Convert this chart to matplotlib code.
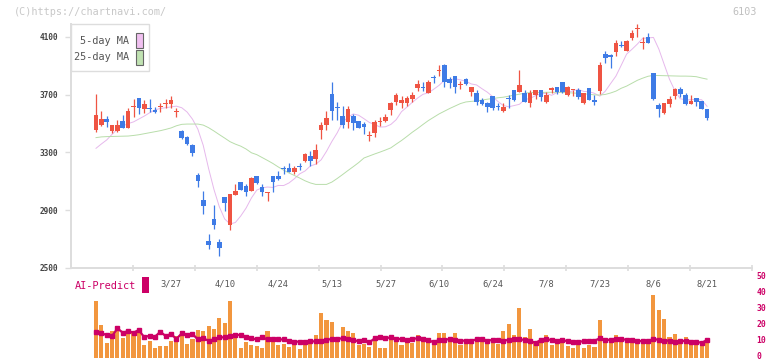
import matplotlib.pyplot as plt
from matplotlib.patches import Rectangle
from matplotlib.transforms import ScaledTranslation

# OHLC (first entry is the flat dash at the far left)
opens = [3300, 3456, 3490, 3532, 3449, 3449, 3518, 3472, 3618, 3675, 3603,
         3605, 3594, 3614, 3638, 3634, 3580, 3449, 3410, 3352, 3144,
         2971, 2687, 2839, 2680, 2994, 2798, 3006, 3093, 3068, 3033,
         3137, 3063, 3020, 3137, 3137, 3188, 3195, 3167, 3204, 3243,
         3276, 3252, 3456, 3490, 3705, 3612, 3553, 3513, 3553, 3518,
         3497, 3412, 3433, 3510, 3520, 3594, 3652, 3641, 3641, 3668,
         3745, 3754, 3714, 3823, 3865, 3906, 3807, 3830, 3766, 3807,
         3721, 3714, 3664, 3641, 3691, 3619, 3590, 3677, 3733, 3721,
         3714, 3641, 3698, 3733, 3652, 3733, 3756, 3786, 3698, 3731,
         3733, 3645, 3745, 3664, 3728, 3982, 3975, 3998, 4040, 4005,
         4095, 4158, 4061, 4098, 3849, 3629, 3576, 3636, 3691, 3740,
         3698, 3636, 3680, 3657, 3601]
highs = [3300, 3705, 3590, 3553, 3492, 3525, 3560, 3610, 3668, 3678, 3664,
         3671, 3617, 3645, 3671, 3691, 3606, 3456, 3414, 3359, 3156,
         3033, 2736, 2937, 2701, 2994, 3013, 3082, 3093, 3082, 3133,
         3137, 3082, 3026, 3137, 3172, 3207, 3230, 3207, 3225, 3299,
         3310, 3359, 3513, 3587, 3790, 3652, 3622, 3622, 3567, 3518,
         3513, 3449, 3525, 3544, 3567, 3652, 3710, 3691, 3691, 3721,
         3802, 3786, 3802, 3837, 3906, 3913, 3825, 3830, 3797, 3818,
         3756, 3733, 3680, 3652, 3691, 3641, 3641, 3698, 3733, 3871,
         3733, 3733, 3733, 3733, 3721, 3756, 3756, 3786, 3760, 3735,
         3745, 3714, 3745, 3698, 3929, 4003, 3982, 4079, 4072, 4080,
         4148, 4190, 4098, 4130, 3849, 3645, 3641, 3691, 3749, 3756,
         3714, 3698, 3680, 3657, 3601]
lows = [3300, 3444, 3484, 3479, 3437, 3444, 3472, 3472, 3548, 3565, 3571,
        3583, 3576, 3578, 3606, 3606, 3548, 3391, 3350, 3276, 3063,
        2874, 2632, 2770, 2585, 2895, 2763, 3006, 3040, 2999, 3033,
        3082, 2999, 2966, 3029, 3110, 3151, 3167, 3151, 3179, 3236,
        3207, 3220, 3394, 3456, 3525, 3525, 3472, 3472, 3456, 3472,
        3428, 3380, 3410, 3484, 3513, 3560, 3629, 3606, 3622, 3652,
        3728, 3728, 3714, 3783, 3830, 3752, 3745, 3714, 3740, 3768,
        3691, 3629, 3629, 3583, 3594, 3594, 3583, 3606, 3657, 3721,
        3652, 3617, 3668, 3657, 3641, 3710, 3705, 3714, 3691, 3691,
        3668, 3636, 3664, 3629, 3705, 3922, 3887, 3968, 4033, 4005,
        4079, 4102, 4017, 4056, 3664, 3548, 3567, 3617, 3671, 3687,
        3629, 3636, 3622, 3601, 3525]
closes = [3300, 3560, 3532, 3511, 3490, 3490, 3472, 3587, 3625, 3610, 3638,
          3600, 3578, 3620, 3644, 3664, 3586, 3403, 3357, 3299, 3105,
          2932, 2659, 2798, 2641, 2952, 3013, 3033, 3040, 3029, 3122,
          3091, 3024, 3024, 3098, 3116, 3184, 3167, 3195, 3200, 3290,
          3243, 3317, 3490, 3541, 3590, 3608, 3490, 3599, 3502, 3472,
          3479, 3416, 3509, 3516, 3548, 3645, 3698, 3664, 3680, 3698,
          3774, 3750, 3786, 3819, 3869, 3790, 3783, 3756, 3770, 3774,
          3756, 3652, 3636, 3617, 3606, 3615, 3613, 3673, 3664, 3768,
          3652, 3714, 3733, 3682, 3698, 3749, 3721, 3721, 3752, 3735,
          3687, 3710, 3664, 3652, 3906, 3952, 3959, 4056, 4036, 4072,
          4130, 4162, 4065, 4056, 3671, 3601, 3641, 3671, 3740, 3705,
          3636, 3657, 3652, 3601, 3541]

# moving averages as drawn on the chart (None = not drawn)
ma5 = [None, 3329, 3359, 3387, 3426, 3461, 3484, 3500, 3512, 3532, 3552,
       3575, 3595, 3605, 3610, 3616, 3621, 3610, 3580, 3531, 3462,
       3350, 3190, 3045, 2925, 2840, 2805, 2815, 2860, 2915, 2985,
       3040, 3055, 3061, 3058, 3072, 3071, 3089, 3118, 3152, 3172,
       3207, 3219, 3249, 3308, 3376, 3436, 3509, 3544, 3567, 3558,
       3534, 3508, 3494, 3476, 3478, 3494, 3527, 3583, 3614, 3647,
       3677, 3703, 3713, 3738, 3765, 3800, 3803, 3811, 3803, 3794,
       3775, 3768, 3742, 3718, 3687, 3653, 3625, 3617, 3625, 3634,
       3667, 3674, 3694, 3706, 3710, 3696, 3715, 3717, 3714, 3728,
       3736, 3723, 3721, 3710, 3690, 3724, 3777, 3829, 3905, 3982,
       4015, 4051, 4091, 4093, 4097, 4017, 3911, 3807, 3728, 3672,
       3665, 3665, 3668, 3665, 3620]
ma25 = [None, 3403, 3408, 3410, 3411, 3412, 3413, 3414, 3418, 3423, 3430,
        3437, 3444, 3451, 3460, 3470, 3485, 3495, 3497, 3497, 3497,
        3490, 3472, 3449, 3424, 3400, 3375, 3358, 3344, 3324, 3298,
        3285, 3265, 3245, 3224, 3200, 3178, 3158, 3141, 3123, 3104,
        3089, 3079, 3079, 3079, 3095, 3120, 3147, 3175, 3202, 3230,
        3262, 3276, 3290, 3303, 3317, 3332, 3358, 3383, 3411, 3440,
        3466, 3494, 3521, 3544, 3567, 3586, 3605, 3622, 3639, 3650,
        3654, 3657, 3663, 3669, 3674, 3679, 3683, 3690, 3697, 3704,
        3711, 3715, 3716, 3716, 3717, 3717, 3717, 3716, 3714, 3712,
        3710, 3707, 3703, 3699, 3698, 3702, 3712, 3725, 3745, 3760,
        3780, 3800, 3815, 3828, 3834, 3833, 3832, 3831, 3830, 3829,
        3829, 3828, 3825, 3816, 3808]

# lower panel: bars and AI-Predict line
bars = [None, 36, 20.8, 9.8, 17, 20.2, 12.9, 17, 15.6, 17.7, 8.3,
        11, 6.6, 7.7, 7.7, 11, 14, 17, 9, 12, 17.7,
        17.3, 20.2, 18.3, 25.4, 22.3, 36, 12.9, 6.6, 10.4, 8.3,
        7.7, 6.2, 17, 10.8, 8.3, 8.9, 6.9, 8.3, 5.6, 9.8,
        10.8, 14.6, 28.5, 24, 22.9, 11.5, 19.8, 17, 16, 8.3,
        8.9, 6.9, 10.8, 6.2, 6.2, 13.1, 13.1, 8.3, 11.5, 9.8,
        14.6, 10.4, 11.5, 9.4, 16, 16, 13.1, 16, 8.3, 9.8,
        8.9, 11.5, 12.1, 9.8, 10.4, 8.9, 17, 21.5, 14.6, 31.2,
        13.1, 18.3, 9.4, 11.5, 14.6, 8.3, 9.8, 12.5, 7.7, 6.6,
        8.3, 6.2, 8.3, 7.3, 24, 11.5, 11.5, 14.6, 11.5, 11.5,
        10.4, 8.9, 12.1, 11.5, 39.6, 30.2, 24.6, 13.1, 15.2, 11.5,
        13.1, 10.4, 9.8, 10.4, 10.4]
ai_line = [None, 16.6, 15.6, 14.6, 13.9, 18.7, 16, 17, 16, 17.7, 13.1,
           14.2, 13.5, 16.6, 13.9, 15.2, 12.1, 15.6, 14.6, 15.2, 11.8,
           12.5, 11, 11.8, 13.1, 13.1, 13.9, 14.6, 14.6, 13.5, 12.5,
           11.8, 13.1, 11.8, 11.8, 11.8, 11.8, 11, 10.4, 10.4, 10.4,
           10.6, 10.6, 11, 11.5, 12.1, 12.1, 12.5, 12.1, 11.5, 10.6,
           11.5, 9.9, 12.5, 13.1, 12.5, 13.1, 12.1, 12.1, 11.5, 12.1,
           12.5, 12.1, 11.5, 9.9, 11.5, 11.5, 12.1, 11.5, 11, 11,
           11, 11.8, 12.1, 11, 11.5, 11.5, 11, 11.5, 11.8, 11.8,
           11.5, 11, 9.6, 11.5, 11.8, 11.5, 11, 11.5, 10.6, 9.9,
           10.4, 10.6, 11, 11, 12.5, 11.5, 11.5, 12.1, 12.1, 11.5,
           11.5, 11, 10.6, 10.6, 12.1, 11.5, 11, 11, 10.4, 10.6,
           11, 10.4, 10.4, 9.6, 11.5]

date_pos = [15, 25, 35, 45, 55, 65, 75, 85, 95, 105, 115]
date_labels = ['3/27', '4/10', '4/24', '5/13', '5/27', '6/10', '6/24',
               '7/8', '7/23', '8/6', '8/21']
price_ticks = [2500, 2900, 3300, 3700, 4100]

RED = '#ef5443'
BLUE = '#3e7be6'
GRID = '#dddddd'
MONO = 'DejaVu Sans Mono'

fig = plt.figure(figsize=(7.72, 3.61), dpi=100)
W, H = 772, 361


def box(x0, y0, x1, y1):
    return [x0 / W, 1 - y1 / H, (x1 - x0) / W, (y1 - y0) / H]


# lower panel first, so the price axes (and its date labels) sit on top
ax2 = fig.add_axes(box(71, 278.3, 752, 358.3))
ax = fig.add_axes(box(71, 24, 752, 268))
ax.patch.set_alpha(0)
n = len(closes)
xs = list(range(n))
x_lo, x_hi = 1 - 25 / 5.36, 1 + 656 / 5.36
ax.set_xlim(x_lo, x_hi)
ax.set_ylim(2500, 4190)

for i in xs:
    o, h, l, c = opens[i], highs[i], lows[i], closes[i]
    col = RED if c >= o else BLUE
    if i > 0:
        ax.vlines(i, l, h, color=col, lw=0.9, zorder=3)
    ax.add_patch(Rectangle((i - 0.43, min(o, c)), 0.86, max(abs(c - o), 6),
                           facecolor=col, edgecolor='none', zorder=4))

ax.plot(xs, [v if v is not None else float('nan') for v in ma5],
        color='#e6b8ec', lw=0.7, zorder=2)
ax.plot(xs, [v if v is not None else float('nan') for v in ma25],
        color='#b8ddaa', lw=0.7, zorder=2)

for s in ['top', 'right']:
    ax.spines[s].set_visible(False)
for s in ['left', 'bottom']:
    ax.spines[s].set_color(GRID)
    ax.spines[s].set_linewidth(1.4)

ax.set_yticks(price_ticks)
ax.set_yticklabels([str(t) for t in price_ticks], fontfamily=MONO,
                   fontsize=5.6, fontweight='bold', color='#444444')
ax.tick_params(axis='y', length=4.5, width=1, color=GRID, pad=5)
ax.set_xticks(date_pos)
ax.set_xticklabels(date_labels, fontfamily=MONO, fontsize=6.3, color='#555555')
ax.tick_params(axis='x', which='major', length=0, pad=8)
ax.set_xticks([x_lo + k * (x_hi - x_lo) / 11 for k in range(1, 12)], minor=True)
ax.tick_params(axis='x', which='minor', length=4, width=1.2, color=GRID,
               direction='inout')

# legend box
fig.add_artist(Rectangle((70.5 / W, 1 - 71 / H), 78 / W, 47 / H,
                         facecolor='white', edgecolor=GRID, lw=1,
                         transform=fig.transFigure, zorder=5))
for yy, lab, fc in [(40.5, '5-day MA', '#f0c0f0'), (57.5, '25-day MA', '#c0e2b2')]:
    fig.text(129.5 / W, 1 - yy / H, lab, ha='right', va='center',
             fontfamily=MONO, fontsize=7.4, color='#555555', zorder=6)
    fig.add_artist(Rectangle((136 / W, 1 - (yy + 7.5) / H), 6.5 / W, 15 / H,
                             facecolor=fc, edgecolor='#666666', lw=0.8,
                             transform=fig.transFigure, zorder=6))

fig.text(14 / W, 1 - 12 / H, '(C)https://chartnavi.com/', ha='left',
         va='center', fontfamily=MONO, fontsize=7.3, color='#c8c8c8')
fig.text(757 / W, 1 - 12 / H, '6103', ha='right', va='center',
         fontfamily=MONO, fontsize=7.3, color='#c0c0c0')

# lower panel
ax2.patch.set_alpha(0)
ax2.set_xlim(x_lo, x_hi)
ax2.set_ylim(0, 50)
ax2.bar(xs, [v if v is not None else 0 for v in bars], width=0.76,
        color='#f2963e', zorder=2)
ax2.plot(xs, [v if v is not None else float('nan') for v in ai_line],
         color='#cc0066', lw=1.6, marker='s', ms=2.2, zorder=3)
for s in ax2.spines.values():
    s.set_visible(False)
ax2.set_xticks([])
ax2.yaxis.tick_right()
ax2.set_yticks([0, 10, 20, 30, 40, 50])
ax2.set_yticklabels(['0', '10', '20', '30', '40', '50'], fontfamily=MONO,
                    fontsize=5.8, fontweight='bold', color='#cc0066')
ax2.tick_params(axis='y', length=0, pad=3)
# nudge labels up a touch so the "0" stays inside the image
shift = ScaledTranslation(0, 2.5 / 100, fig.dpi_scale_trans)
for t in ax2.get_yticklabels():
    t.set_transform(t.get_transform() + shift)

fig.text(75 / W, 1 - 286 / H, 'AI-Predict', ha='left', va='center',
         fontfamily=MONO, fontsize=7.4, color='#cc0066')
fig.add_artist(Rectangle((142 / W, 1 - 293 / H), 7 / W, 16 / H,
                         facecolor='#cc0066', edgecolor='none',
                         transform=fig.transFigure))

fig.savefig('out.png', dpi=100)
